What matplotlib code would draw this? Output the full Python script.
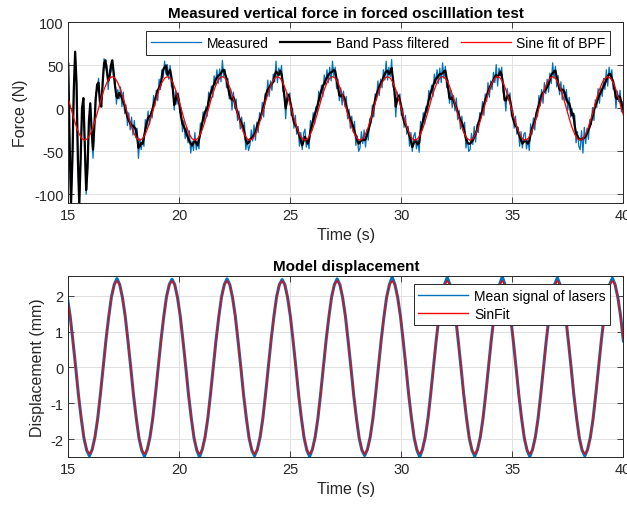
import numpy as np
import matplotlib.pyplot as plt

plt.rcParams['font.family'] = ['Liberation Sans', 'DejaVu Sans']
plt.rcParams['axes.unicode_minus'] = False

# force signals, sampled every 0.062 s starting at 14.996 s
force_t0 = 14.996
force_dt = 0.062

measured = [
    50, -42, -114, -58, 18, 64, 28, -62, -114, -58, -2, 10, -44, -100, -68, -17, 4, -30, -58, -18,
    18, 20, 35, 2, 10, 25, 58, 47, 51, 22, 45, 42, 54, 35, 34, 5, 22, 11, 25, 2,
    19, -6, 4, -20, -5, -25, -10, -31, -14, -34, -23, -58,
    -35, -48, -36, -44, -13, -23, -3, -19, -4, -11, 15, 3, 21, 9, 34, 22, 45, 36, 55, 40,
    51, 34, 50, 25, 31, -2, 20, 5, 18, -5, 1, -27, -14, -35, -22, -40, -26, -52, -38, -49,
    -28, -48, -38, -47, -17, -26, -4, -16, 2, -9, 19, 9, 26, 13, 38, 28, 45, 29, 46, 31,
    56, 37, 45, 24, 35, 11, 22, -2, 19, 0, 11, -14, -3, -24, -10, -27, -16, -48, -36, -49,
    -43, -25, -38, -19, -37, -16, -28, -5, -13, 7, -10, 17, 12, 33, 14, 32, 21, 40, 31, 55,
    30, 47, 39, 50, 20, 20, -12, 18, 10, 18, -8, 0, -23, -8, -30, -21, -44, -28, -48, -29,
    -24, -45, -36, -47, -14, -26, -5, -18, 2, -6, 20, 9, 27, 14, 39, 28, 45, 30, 48, 32,
    55, 37, 48, 23, 34, 9, 24, 4, 20, 2, 14, -12, -1, -23, -9, -27, -15, -43, -32, -50,
    -46, -27, -41, -25, -45, -25, -37, -12, -17, 4, -10, 17, 10, 32, 15, 34, 24, 45, 33, 55,
    33, 48, 37, 57, 25, 26, -10, 19, 9, 17, -8, 0, -22, -8, -30, -21, -44, -28, -50, -32,
    -28, -47, -37, -51, -15, -26, -5, -18, 2, -6, 21, 10, 27, 14, 40, 29, 45, 29, 47, 30,
    53, 35, 49, 24, 33, 6, 21, 1, 15, -3, 12, -13, -2, -24, -9, -27, -16, -46, -35, -50,
    -48, -29, -42, -21, -39, -19, -28, -5, -11, 8, -8, 17, 8, 30, 13, 32, 22, 42, 30, 51,
    26, 47, 38, 48, 19, 16, -3, 23, 9, 18, -9, -2, -23, -9, -30, -22, -44, -27, -46, -30,
    -28, -47, -36, -49, -18, -30, -11, -25, -4, -10, 15, 3, 22, 6, 30, 17, 34, 19, 41, 29,
    53, 35, 49, 25, 38, 16, 31, 10, 27, 9, 22, -2, 13, -10, 0, -12, -8, -40, -27, -44,
    -48, -26, -52, -22, -41, -23, -36, -13, -19, 1, -14, 10, 1, 23, 6, 24, 14, 35, 22, 45,
    26, 48, 35, 45, 22, 28, 0, 20, 8, 21, -4, 8, -11,
]

band_pass = [
    52, -40, -112, -60, 20, 66, 30, -60, -112, -60, 0, 12, -40, -95, -70, -15, 6, -25, -48, -20,
    12, 28, 30, 8, 2, 30, 52, 56, 44, 32, 36, 50, 56, 42, 26, 14, 12, 18, 16, 12,
    8, 3, -4, -10, -14, -17, -20, -20, -22, -24, -32, -46,
    -44, -40, -41, -33, -25, -17, -11, -9, -8, -2, 4, 10, 15, 21, 24, 27, 36, 45, 48, 50,
    39, 42, 45, 36, 22, 4, 10, 17, 12, 3, -10, -18, -21, -25, -30, -34, -38, -41, -43, -40,
    -37, -40, -43, -36, -29, -20, -12, -6, -2, 0, 8, 16, 20, 25, 28, 33, 36, 38, 39, 41,
    44, 45, 40, 35, 26, 17, 12, 10, 13, 8, 0, -5, -10, -14, -18, -21, -28, -37, -41, -40,
    -36, -35, -33, -31, -28, -22, -17, -13, -9, -3, 2, 10, 18, 22, 24, 27, 29, 31, 38, 43,
    41, 39, 44, 40, 29, 14, 0, 9, 16, 10, 2, -9, -16, -19, -22, -27, -32, -38, -43, -38,
    -33, -37, -41, -36, -26, -20, -13, -8, -2, 3, 9, 16, 21, 26, 29, 33, 36, 39, 41, 42,
    43, 45, 43, 34, 25, 15, 14, 16, 14, 10, 3, -3, -8, -13, -17, -21, -27, -32, -37, -41,
    -39, -37, -36, -37, -36, -31, -26, -20, -13, -6, 2, 10, 16, 21, 25, 29, 32, 36, 40, 43,
    44, 40, 42, 47, 34, 20, 2, 10, 15, 9, 2, -9, -15, -19, -22, -27, -32, -38, -45, -41,
    -37, -39, -42, -40, -27, -20, -13, -8, -2, 3, 10, 17, 21, 26, 30, 34, 36, 38, 40, 40,
    41, 43, 44, 35, 24, 12, 11, 13, 9, 5, 1, -4, -9, -14, -17, -21, -28, -35, -40, -41,
    -41, -39, -37, -33, -30, -25, -17, -13, -7, -2, 4, 10, 14, 19, 23, 27, 30, 33, 37, 39,
    37, 39, 43, 38, 28, 10, 9, 14, 15, 10, 1, -11, -16, -20, -22, -28, -32, -37, -41, -39,
    -37, -39, -41, -38, -30, -24, -19, -15, -8, -1, 4, 10, 16, 18, 20, 22, 25, 28, 34, 39,
    41, 43, 44, 36, 29, 22, 21, 22, 21, 17, 11, 7, 6, 0, -8, -6, -20, -29, -32, -35,
    -36, -36, -35, -34, -32, -29, -25, -21, -15, -9, -2, 3, 7, 12, 16, 19, 22, 26, 29, 33,
    37, 40, 40, 35, 31, 22, 12, 11, 14, 13, 6, -1, -4,
]

# sine fit of the band pass signal, every 0.124 s from 14.996 s
sine_dt = 0.124
sine_fit_bpf = [
    11.4, 0.0, -11.4, -21.8, -29.9, -35.2,
    -37.0, -35.2, -29.9, -21.8, -11.4, 0.0, 11.4, 21.8, 29.9, 35.2, 37.0, 35.2, 29.9, 21.8, 11.4, 0.0, -11.4, -21.8, -29.9, -35.2,
    -37.0, -35.2, -29.9, -21.8, -11.4, 0.0, 11.4, 21.8, 29.9, 35.2, 37.0, 35.2, 29.9, 21.8, 11.4, 0.0, -11.4, -21.8, -29.9, -35.2,
    -37.0, -35.2, -29.9, -21.8, -11.4, 0.0, 11.4, 21.8, 29.9, 35.2, 37.0, 35.2, 29.9, 21.8, 11.4, 0.0, -11.4, -21.8, -29.9, -35.2,
    -37.0, -35.2, -29.9, -21.8, -11.4, 0.0, 11.4, 21.8, 29.9, 35.2, 37.0, 35.2, 29.9, 21.8, 11.4, 0.0, -11.4, -21.8, -29.9, -35.2,
    -37.0, -35.2, -29.9, -21.8, -11.4, 0.0, 11.4, 21.8, 29.9, 35.2, 37.0, 35.2, 29.9, 21.8, 11.4, 0.0, -11.4, -21.8, -29.9, -35.2,
    -37.0, -35.2, -29.9, -21.8, -11.4, 0.0, 11.4, 21.8, 29.9, 35.2, 37.0, 35.2, 29.9, 21.8, 11.4, 0.0, -11.4, -21.8, -29.9, -35.2,
    -37.0, -35.2, -29.9, -21.8, -11.4, 0.0, 11.4, 21.8, 29.9, 35.2, 37.0, 35.2, 29.9, 21.8, 11.4, 0.0, -11.4, -21.8, -29.9, -35.2,
    -37.0, -35.2, -29.9, -21.8, -11.4, 0.0, 11.4, 21.8, 29.9, 35.2, 37.0, 35.2, 29.9, 21.8, 11.4, 0.0, -11.4, -21.8, -29.9, -35.2,
    -37.0, -35.2, -29.9, -21.8, -11.4, 0.0, 11.4, 21.8, 29.9, 35.2, 37.0, 35.2, 29.9, 21.8, 11.4, 0.0, -11.4, -21.8, -29.9, -35.2,
    -37.0, -35.2, -29.9, -21.8, -11.4, 0.0, 11.4, 21.8, 29.9, 35.2, 37.0, 35.2, 29.9, 21.8, 11.4, 0.0, -11.4,
]

# model displacement (mm), every 0.124 s from 14.71 s
disp_t0 = 14.71
disp_dt = 0.124
laser_mean = [
    2.45, 2.31, 1.95, 1.43, 0.74, 0.01, -0.76, -1.41, -1.97, -2.31, -2.47, -2.29, -1.95, -1.43, -0.74, 0.01, 0.76, 1.41, 1.97, 2.31,
    2.48, 2.31, 1.95, 1.43, 0.74, 0.01, -0.76, -1.41, -1.97, -2.31, -2.48, -2.29, -1.95, -1.43, -0.74, 0.01, 0.76, 1.41, 1.97, 2.31,
    2.46, 2.31, 1.95, 1.43, 0.74, 0.01, -0.76, -1.41, -1.97, -2.31, -2.50, -2.29, -1.95, -1.43, -0.74, 0.01, 0.76, 1.41, 1.97, 2.31,
    2.47, 2.31, 1.95, 1.43, 0.74, 0.01, -0.76, -1.41, -1.97, -2.31, -2.47, -2.29, -1.95, -1.43, -0.74, 0.01, 0.76, 1.41, 1.97, 2.31,
    2.45, 2.31, 1.95, 1.43, 0.74, 0.01, -0.76, -1.41, -1.97, -2.31, -2.49, -2.29, -1.95, -1.43, -0.74, 0.01, 0.76, 1.41, 1.97, 2.31,
    2.47, 2.31, 1.95, 1.43, 0.74, 0.01, -0.76, -1.41, -1.97, -2.31, -2.46, -2.29, -1.95, -1.43, -0.74, 0.01, 0.76, 1.41, 1.97, 2.31,
    2.52, 2.31, 1.95, 1.43, 0.74, 0.01, -0.76, -1.41, -1.97, -2.31, -2.50, -2.29, -1.95, -1.43, -0.74, 0.01, 0.76, 1.41, 1.97, 2.31,
    2.51, 2.31, 1.95, 1.43, 0.74, 0.01, -0.76, -1.41, -1.97, -2.31, -2.48, -2.29, -1.95, -1.43, -0.74, 0.01, 0.76, 1.41, 1.97, 2.31,
    2.53, 2.31, 1.95, 1.43, 0.74, 0.01, -0.76, -1.41, -1.97, -2.31, -2.49, -2.29, -1.95, -1.43, -0.74, 0.01, 0.76, 1.41, 1.97, 2.31,
    2.50, 2.31, 1.95, 1.43, 0.74, 0.01, -0.76, -1.41, -1.97, -2.31, -2.47, -2.29, -1.95, -1.43, -0.74, 0.01, 0.76, 1.41, 1.97, 2.31,
    2.49, 2.31, 1.95, 1.43, 0.74,
]

sin_fit = [
    2.42, 2.30, 1.96, 1.42, 0.75, 0.00, -0.75, -1.42, -1.96, -2.30, -2.42, -2.30, -1.96, -1.42, -0.75, 0.00, 0.75, 1.42, 1.96, 2.30,
    2.42, 2.30, 1.96, 1.42, 0.75, 0.00, -0.75, -1.42, -1.96, -2.30, -2.42, -2.30, -1.96, -1.42, -0.75, 0.00, 0.75, 1.42, 1.96, 2.30,
    2.42, 2.30, 1.96, 1.42, 0.75, 0.00, -0.75, -1.42, -1.96, -2.30, -2.42, -2.30, -1.96, -1.42, -0.75, 0.00, 0.75, 1.42, 1.96, 2.30,
    2.42, 2.30, 1.96, 1.42, 0.75, 0.00, -0.75, -1.42, -1.96, -2.30, -2.42, -2.30, -1.96, -1.42, -0.75, 0.00, 0.75, 1.42, 1.96, 2.30,
    2.42, 2.30, 1.96, 1.42, 0.75, 0.00, -0.75, -1.42, -1.96, -2.30, -2.42, -2.30, -1.96, -1.42, -0.75, 0.00, 0.75, 1.42, 1.96, 2.30,
    2.42, 2.30, 1.96, 1.42, 0.75, 0.00, -0.75, -1.42, -1.96, -2.30, -2.42, -2.30, -1.96, -1.42, -0.75, 0.00, 0.75, 1.42, 1.96, 2.30,
    2.42, 2.30, 1.96, 1.42, 0.75, 0.00, -0.75, -1.42, -1.96, -2.30, -2.42, -2.30, -1.96, -1.42, -0.75, 0.00, 0.75, 1.42, 1.96, 2.30,
    2.42, 2.30, 1.96, 1.42, 0.75, 0.00, -0.75, -1.42, -1.96, -2.30, -2.42, -2.30, -1.96, -1.42, -0.75, 0.00, 0.75, 1.42, 1.96, 2.30,
    2.42, 2.30, 1.96, 1.42, 0.75, 0.00, -0.75, -1.42, -1.96, -2.30, -2.42, -2.30, -1.96, -1.42, -0.75, 0.00, 0.75, 1.42, 1.96, 2.30,
    2.42, 2.30, 1.96, 1.42, 0.75, 0.00, -0.75, -1.42, -1.96, -2.30, -2.42, -2.30, -1.96, -1.42, -0.75, 0.00, 0.75, 1.42, 1.96, 2.30,
    2.42, 2.30, 1.96, 1.42, 0.75,
]

x_ticks = [15, 20, 25, 30, 35, 40]
force_ticks = [-100, -50, 0, 50, 100]
disp_ticks = [-2, -1, 0, 1, 2]

t_force = force_t0 + force_dt * np.arange(len(measured))
t_sine = force_t0 + sine_dt * np.arange(len(sine_fit_bpf))
t_disp = disp_t0 + disp_dt * np.arange(len(sin_fit))

dark = '#262626'


def style_axes(ax):
    ax.set_xlim(15, 40)
    ax.set_xticks(x_ticks)
    ax.grid(True, color='#e1e1e1', linewidth=0.7)
    ax.set_axisbelow(True)
    ax.tick_params(direction='in', top=True, right=True, length=4, width=0.6,
                   colors=dark, labelsize=10.5)
    for s in ax.spines.values():
        s.set_color(dark)
        s.set_linewidth(0.7)


def add_legend(ax, ncol):
    leg = ax.legend(loc='upper right', bbox_to_anchor=(0.977, 0.953), borderaxespad=0,
                    ncol=ncol, fontsize=10, handlelength=3.6, handletextpad=0.4,
                    columnspacing=0.85, borderpad=0.35, labelspacing=0.25,
                    fancybox=False, framealpha=1, edgecolor=dark)
    leg.get_frame().set_linewidth(0.7)
    return leg


fig = plt.figure(figsize=(6.27, 5.10), dpi=100)

ax1 = fig.add_axes([0.109, 0.600, 0.885, 0.354])
ax1.plot(t_force, measured, color='#0072BD', linewidth=0.9, label='Measured')
ax1.plot(t_force, band_pass, color='black', linewidth=1.6, label='Band Pass filtered')
ax1.plot(t_sine, sine_fit_bpf, color='red', linewidth=0.9, label='Sine fit of BPF')
style_axes(ax1)
ax1.set_ylim(-110, 100)
ax1.set_yticks(force_ticks)
ax1.set_xlabel('Time (s)', fontsize=11.5, color=dark)
ax1.set_ylabel('Force (N)', fontsize=11.5, color=dark)
ax1.set_title('Measured vertical force in forced oscilllation test', fontsize=11,
              fontweight='bold', pad=4)
add_legend(ax1, 3)

ax2 = fig.add_axes([0.109, 0.102, 0.885, 0.3555])
ax2.plot(t_disp, laser_mean, color='#0072BD', linewidth=2.2, label='Mean signal of lasers')
ax2.plot(t_disp, sin_fit, color='red', linewidth=1.0, label='SinFit')
style_axes(ax2)
ax2.set_ylim(-2.5, 2.56)
ax2.set_yticks(disp_ticks)
ax2.set_xlabel('Time (s)', fontsize=11.5, color=dark)
ax2.set_ylabel('Displacement (mm)', fontsize=11.5, color=dark)
ax2.set_title('Model displacement', fontsize=11, fontweight='bold', pad=4)
leg2 = add_legend(ax2, 1)
leg2.legend_handles[0].set_linewidth(1.0)

fig.savefig('out.png', dpi=100)
